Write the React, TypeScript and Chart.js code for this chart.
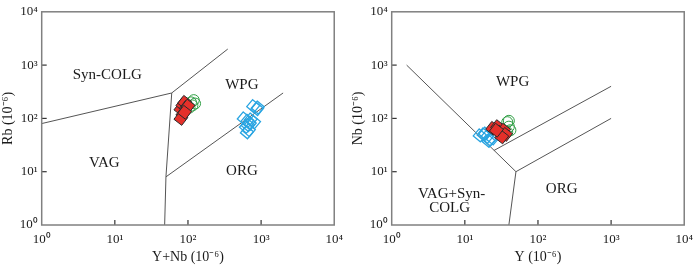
import React, { useEffect, useRef } from 'react';
import { Chart, registerables } from 'chart.js';

Chart.register(...registerables);

// ---- shared axis ticks ----
const tickValues = [1, 10, 100, 1000, 10000];
const tickLabels = ['10⁰', '10¹', '10²', '10³', '10⁴'];

// ---- Panel A: Rb vs Y+Nb ----
const aRedX = [80, 85, 90, 95, 85, 80, 100, 90];
const aRedY = [150, 180, 200, 160, 120, 100, 170, 130];
const aGreenX = [110, 120, 125, 115, 105];
const aGreenY = [200, 220, 190, 175, 160];
const aBlueX = [780, 880, 900, 580, 650, 700, 620, 680, 640, 800, 720, 660];
const aBlueY = [170, 150, 160, 100, 90, 80, 70, 60, 55, 85, 95, 75];

const aLineSynVag = [[1, 80], [60, 300]];
const aLineSynWpg = [[60, 300], [350, 2000]];
const aLineVagWpg = [[60, 300], [50, 8], [48, 1]];
const aLineWpgOrg = [[50, 8], [2000, 300]];

const aRegionText = ['Syn-COLG', 'WPG', 'VAG', 'ORG'];
const aRegionX = [7.9, 546, 7.2, 546];
const aRegionY = [658, 415, 14.6, 10.4];

// ---- Panel B: Nb vs Y ----
const bRedX = [24, 28, 30, 34, 36, 32, 27];
const bRedY = [65, 70, 55, 60, 50, 45, 60];
const bGreenX = [38, 40, 42, 38, 40];
const bGreenY = [85, 70, 60, 55, 90];
const bBlueX = [16, 18, 20, 22, 24, 19, 21];
const bBlueY = [48, 50, 45, 40, 42, 52, 38];

const bLineWpgVag = [[1.6, 1000], [50, 10]];
const bLineOrgWpg = [[50, 10], [1000, 100]];
const bLineVagOrg = [[50, 10], [40, 1]];
const bLineInner = [[25, 25], [1000, 400]];

const bRegionText = ['WPG', 'VAG+Syn-', 'COLG', 'ORG'];
const bRegionX = [45, 6.6, 6.2, 211];
const bRegionY = [490, 3.8, 2.1, 4.7];

const FONT = '"Liberation Serif", "Times New Roman", serif';

const toPts = (xs: number[], ys: number[]) => xs.map((x, i) => ({ x, y: ys[i] }));
const pairPts = (arr: number[][]) => arr.map(([x, y]) => ({ x, y }));

function lineDs(arr: number[][]) {
  return {
    data: pairPts(arr),
    showLine: true,
    borderColor: '#555',
    borderWidth: 1,
    pointRadius: 0,
    fill: false,
  };
}

function makeConfig(opts: any) {
  const {
    redX, redY, greenX, greenY, blueX, blueY, lines,
    regionText, regionX, regionY, xTitle, yTitle,
  } = opts;

  const framePlugin = {
    id: 'frame',
    afterDraw(chart: any) {
      const { ctx, chartArea } = chart;
      const xs = chart.scales.x;
      const ys = chart.scales.y;
      ctx.save();
      // inward ticks
      ctx.strokeStyle = '#333';
      ctx.lineWidth = 1.2;
      [10, 100, 1000].forEach((v) => {
        const px = xs.getPixelForValue(v);
        ctx.beginPath();
        ctx.moveTo(px, chartArea.bottom);
        ctx.lineTo(px, chartArea.bottom - 5);
        ctx.stroke();
        const py = ys.getPixelForValue(v);
        ctx.beginPath();
        ctx.moveTo(chartArea.left, py);
        ctx.lineTo(chartArea.left + 5, py);
        ctx.stroke();
      });
      // frame
      ctx.strokeStyle = '#808080';
      ctx.lineWidth = 1.5;
      ctx.strokeRect(chartArea.left, chartArea.top, chartArea.right - chartArea.left, chartArea.bottom - chartArea.top);
      // region labels
      ctx.fillStyle = '#1a1a1a';
      ctx.font = `15px ${FONT}`;
      ctx.textAlign = 'center';
      ctx.textBaseline = 'middle';
      regionText.forEach((t: string, i: number) => {
        ctx.fillText(t, xs.getPixelForValue(regionX[i]), ys.getPixelForValue(regionY[i]));
      });
      ctx.restore();
    },
  };

  const axisCommon = {
    type: 'logarithmic' as const,
    min: 1,
    max: 10000,
    afterBuildTicks: (s: any) => {
      s.ticks = tickValues.map((v) => ({ value: v }));
    },
    grid: { display: false, drawTicks: false },
    border: { display: false },
  };

  const labelFor = (v: any) => {
    const i = tickValues.indexOf(Number(v));
    return i >= 0 ? tickLabels[i] : '';
  };

  return {
    type: 'scatter',
    data: {
      datasets: [
        {
          data: toPts(redX, redY),
          pointStyle: 'rect',
          rotation: 38,
          radius: 7,
          backgroundColor: '#e5302a',
          borderColor: '#2a2a2a',
          borderWidth: 1,
        },
        {
          data: toPts(greenX, greenY),
          pointStyle: 'circle',
          radius: 5.5,
          backgroundColor: 'rgba(0,0,0,0)',
          borderColor: '#2f9e44',
          borderWidth: 1,
        },
        {
          data: toPts(blueX, blueY),
          pointStyle: 'rect',
          rotation: 40,
          radius: 6.5,
          backgroundColor: 'rgba(0,0,0,0)',
          borderColor: '#2aa5e2',
          borderWidth: 1.3,
        },
        ...lines.map((l: number[][]) => lineDs(l)),
      ],
    },
    options: {
      animation: false,
      responsive: false,
      devicePixelRatio: 1,
      layout: { autoPadding: false, padding: { left: 0, top: 5, right: 9.3, bottom: 5.6 } },
      plugins: { legend: { display: false }, tooltip: { enabled: false } },
      scales: {
        x: {
          ...axisCommon,
          position: 'bottom',
          afterFit: (s: any) => { s.height = 40.4; },
          ticks: {
            callback: labelFor,
            autoSkip: false,
            maxRotation: 0,
            padding: 7,
            color: '#1a1a1a',
            font: { family: FONT, size: 13 },
          },
          title: {
            display: true,
            text: xTitle,
            color: '#1a1a1a',
            padding: 0,
            font: { family: FONT, size: 14 },
          },
        },
        y: {
          ...axisCommon,
          position: 'left',
          afterFit: (s: any) => { s.width = 41.7; },
          ticks: {
            callback: labelFor,
            autoSkip: false,
            padding: 4,
            color: '#1a1a1a',
            font: { family: FONT, size: 13 },
          },
          title: {
            display: true,
            text: yTitle,
            color: '#1a1a1a',
            padding: 0,
            font: { family: FONT, size: 14 },
          },
        },
      },
    },
    plugins: [framePlugin],
  };
}

function Panel(props: any) {
  const ref = useRef<HTMLCanvasElement | null>(null);
  useEffect(() => {
    if (!ref.current) return;
    const chart = new Chart(ref.current, makeConfig(props) as any);
    return () => chart.destroy();
  }, []);
  return <canvas ref={ref} width={350} height={271} style={{ display: 'block', width: 350, height: 271 }} />;
}

export default function App() {
  return (
    <div style={{ position: 'fixed', left: 0, top: 0, width: 700, height: 271, display: 'flex', background: '#fff' }}>
      <Panel
        redX={aRedX} redY={aRedY} greenX={aGreenX} greenY={aGreenY} blueX={aBlueX} blueY={aBlueY}
        lines={[aLineSynVag, aLineSynWpg, aLineVagWpg, aLineWpgOrg]}
        regionText={aRegionText} regionX={aRegionX} regionY={aRegionY}
        xTitle="Y+Nb (10⁻⁶)" yTitle="Rb (10⁻⁶)"
      />
      <Panel
        redX={bRedX} redY={bRedY} greenX={bGreenX} greenY={bGreenY} blueX={bBlueX} blueY={bBlueY}
        lines={[bLineWpgVag, bLineOrgWpg, bLineVagOrg, bLineInner]}
        regionText={bRegionText} regionX={bRegionX} regionY={bRegionY}
        xTitle="Y (10⁻⁶)" yTitle="Nb (10⁻⁶)"
      />
    </div>
  );
}
